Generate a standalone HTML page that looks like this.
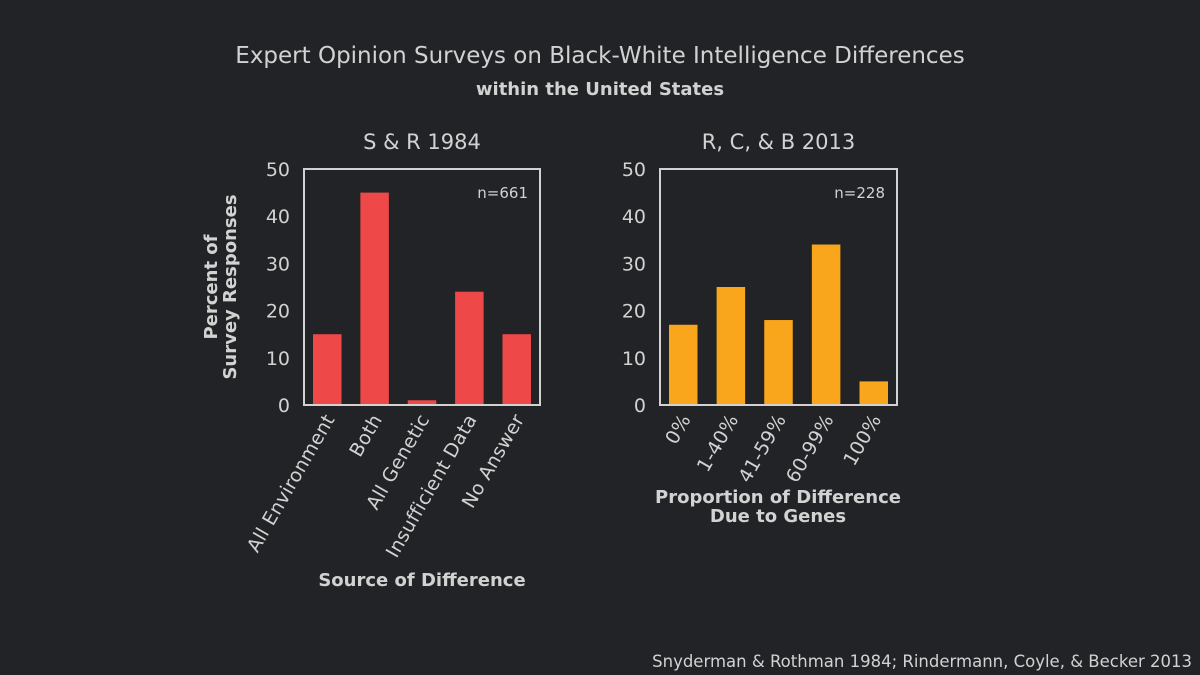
<!DOCTYPE html>
<html><head><meta charset="utf-8"><style>
html,body{margin:0;padding:0;background:#222326;}
svg{display:block;font-family:"DejaVu Sans","Liberation Sans",sans-serif;}
</style></head><body>
<svg id="c" width="1200" height="675" xmlns="http://www.w3.org/2000/svg">
<rect width="1200" height="675" fill="#222326"/>
<text x="600" y="63" text-anchor="middle" fill="#d2d2d2" font-size="23">Expert Opinion Surveys on Black-White Intelligence Differences</text>
<text x="600" y="95" text-anchor="middle" fill="#d2d2d2" font-size="18" font-weight="bold">within the United States</text>
<text x="1192" y="667" text-anchor="end" fill="#d2d2d2" font-size="16.5">Snyderman &amp; Rothman 1984; Rindermann, Coyle, &amp; Becker 2013</text>
<g id="plots"></g>
</svg>
<script>
const leftCategories = ["All Environment","Both","All Genetic","Insufficient Data","No Answer"];
const leftValues = [15,45,1,24,15];
const rightCategories = ["0%","1-40%","41-59%","60-99%","100%"];
const rightValues = [17,25,18,34,5];
const yTicks = [0,10,20,30,40,50];
const NS="http://www.w3.org/2000/svg";
const root=document.getElementById('plots');
function mk(tag,attrs,parent){const e=document.createElementNS(NS,tag);for(const k in attrs)e.setAttribute(k,attrs[k]);(parent||root).appendChild(e);return e;}
function panel(cfg){
  const g=mk('g',{});
  
  
  const x0=cfg.x0,x1=cfg.x1,yTop=169,yBot=405,yMax=50;
  const y=v=>yBot-(v/yMax)*(yBot-yTop);
  const n=cfg.cats.length,pad=9,bw=28.5;
  const pitch=(x1-x0-2*pad-bw)/(n-1);
  const cx=i=>x0+pad+bw/2+i*pitch;
  cfg.vals.forEach((v,i)=>{
    const r=mk('rect',{x:cx(i)-bw/2,y:y(v),width:bw,height:yBot-y(v),fill:cfg.color},g);
    
    
    const t=mk('text',{x:0,y:0,'text-anchor':'end',fill:'#d2d2d2','font-size':19,'letter-spacing':0.3,transform:`translate(${cx(i)+8},${yBot+14}) rotate(-60)`},g);
    t.textContent=cfg.cats[i];
    
    
  });
  yTicks.forEach(v=>{
    const t=mk('text',{x:x0-14,y:y(v)+7,'text-anchor':'end',fill:'#d2d2d2','font-size':19},g);
    t.textContent=v;
    
    
  });
  const f=mk('rect',{x:x0,y:yTop,width:x1-x0,height:yBot-yTop,fill:'none',stroke:'#d2d2d2','stroke-width':2},g);
  
  
  const nt=mk('text',{x:x1-12,y:198,'text-anchor':'end',fill:'#d2d2d2','font-size':15},g);
  nt.textContent=cfg.n;
  
  
  const tt=mk('text',{x:(x0+x1)/2,y:149,'text-anchor':'middle',fill:'#d2d2d2','font-size':21},g);
  tt.textContent=cfg.title;
  
  
  return g;
}
panel({name:'left-panel',x0:304,x1:540,cats:leftCategories,vals:leftValues,color:'#ef4848',n:'n=661',title:'S & R 1984'});
panel({name:'right-panel',x0:660,x1:897,cats:rightCategories,vals:rightValues,color:'#f9a61c',n:'n=228',title:'R, C, & B 2013'});
function lab(txt,x,y,name,rot){const t=mk('text',{x:x,y:y,'text-anchor':'middle',fill:'#d2d2d2','font-size':18,'font-weight':'bold'});if(rot)t.setAttribute('transform',`rotate(-90 ${x} ${y})`);t.textContent=txt;}
lab('Percent of',217,287,'y-axis-title-line1',true);
lab('Survey Responses',236,287,'y-axis-title-line2',true);
lab('Source of Difference',422,586,'x-axis-title-left');
lab('Proportion of Difference',778,503,'x-axis-title-right-line1');
lab('Due to Genes',778,522,'x-axis-title-right-line2');
</script>
</body></html>
